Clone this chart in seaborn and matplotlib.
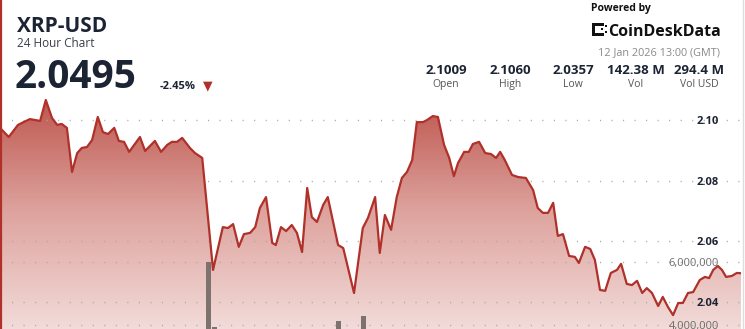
import numpy as np
import pandas as pd
import matplotlib
matplotlib.use("Agg")
import matplotlib.pyplot as plt
import matplotlib.transforms as mtransforms
from matplotlib.colors import LinearSegmentedColormap
from matplotlib.patches import Rectangle
import seaborn as sns

# ---------------- data ----------------
minutes = [0, 17, 35, 58, 78, 89, 101, 111, 120, 130,
           140, 150, 159, 169, 179, 190, 200, 210, 222, 231,
           241, 251, 272, 282, 301, 313, 325, 334, 344, 354,
           369, 379, 393, 414, 433, 443, 453, 464, 474, 486,
           496, 505, 517, 529, 536, 546, 556, 567, 577, 587,
           597, 606, 616, 628, 637, 657, 667, 688, 705, 715,
           729, 738, 748, 760, 771, 781, 791, 801, 810, 822,
           830, 841, 851, 863, 873, 882, 890, 902, 911, 919,
           931, 943, 954, 964, 972, 981, 995, 1007, 1022, 1036,
           1045, 1055, 1065, 1075, 1084, 1094, 1106, 1117, 1125, 1137,
           1147, 1156, 1166, 1176, 1187, 1199, 1207, 1218, 1228, 1238,
           1248, 1257, 1267, 1279, 1288, 1298, 1308, 1318, 1327, 1337,
           1347, 1360, 1370, 1378, 1386, 1395, 1403, 1411, 1422, 1432,
           1440]
prices = [2.0974, 2.0944, 2.0984, 2.1003, 2.0997, 2.1066, 2.1007, 2.0984, 2.0987, 2.0974,
          2.0829, 2.0891, 2.0908, 2.0911, 2.0934, 2.1010, 2.0960, 2.0954, 2.0974, 2.0931,
          2.0928, 2.0895, 2.0944, 2.0898, 2.0931, 2.0895, 2.0918, 2.0928, 2.0928, 2.0941,
          2.0908, 2.0891, 2.0875, 2.0506, 2.0647, 2.0644, 2.0657, 2.0582, 2.0624, 2.0628,
          2.0647, 2.0710, 2.0746, 2.0595, 2.0588, 2.0647, 2.0634, 2.0654, 2.0628, 2.0565,
          2.0776, 2.0680, 2.0664, 2.0720, 2.0746, 2.0588, 2.0578, 2.0430, 2.0644, 2.0677,
          2.0746, 2.0562, 2.0687, 2.0638, 2.0746, 2.0809, 2.0829, 2.0868, 2.0993, 2.0993,
          2.1000, 2.1013, 2.1010, 2.0918, 2.0875, 2.0815, 2.0858, 2.0895, 2.0895, 2.0921,
          2.0928, 2.0891, 2.0888, 2.0875, 2.0895, 2.0868, 2.0819, 2.0812, 2.0809, 2.0769,
          2.0710, 2.0694, 2.0694, 2.0727, 2.0618, 2.0624, 2.0552, 2.0549, 2.0529, 2.0582,
          2.0575, 2.0539, 2.0440, 2.0437, 2.0496, 2.0506, 2.0526, 2.0460, 2.0456, 2.0470,
          2.0430, 2.0446, 2.0430, 2.0387, 2.0417, 2.0384, 2.0357, 2.0397, 2.0397, 2.0430,
          2.0433, 2.0473, 2.0483, 2.0479, 2.0506, 2.0519, 2.0506, 2.0483, 2.0486, 2.0496,
          2.0495]
vol_minutes = [406, 416, 657, 707]
volumes = [6.0e6, 3.94e6, 4.13e6, 4.29e6]
price_ticks = [2.04, 2.06, 2.08, 2.10]
price_tick_labels = ["2.04", "2.06", "2.08", "2.10"]
vol_ticks = [4_000_000, 6_000_000]
vol_tick_labels = ["4,000,000", "6,000,000"]
stat_values = ["2.1009", "2.1060", "2.0357", "142.38 M", "294.4 M"]
stat_labels = ["Open", "High", "Low", "Vol", "Vol USD"]

df = pd.DataFrame({"minute": minutes, "price": prices})

# ---------------- style ----------------
sns.set_theme(style="white")
plt.rcParams['font.family'] = ['Open Sans', 'DejaVu Sans']

W, H = 745, 329
fig = plt.figure(figsize=(W / 100, H / 100), dpi=100)
fig.patch.set_facecolor("white")

def fy(px):
    return 1 - px / H

rect = [0, 0, 741 / W, (329 - 95) / H]
P_LO, P_HI = 2.03113, 2.10824
V_LO, V_HI = 3.873e6, 11.302e6
X_LO, X_HI = 0, 1440

ax = fig.add_axes(rect)
axv = fig.add_axes(rect)
axl = fig.add_axes(rect)
for a in (ax, axv, axl):
    a.set_xlim(X_LO, X_HI)
    a.set_axis_off()
    a.patch.set_alpha(0)
ax.set_ylim(P_LO, P_HI)
axl.set_ylim(P_LO, P_HI)
axv.set_ylim(V_LO, V_HI)

line_color = "#b0302a"

# gradient fill under the price line
top_c = (0.74, 0.33, 0.30)
bot_c = (0.95, 0.86, 0.85)
cmap = LinearSegmentedColormap.from_list("grad", [bot_c, (0.87, 0.64, 0.62), top_c])
grad = np.linspace(0, 1, 256).reshape(-1, 1)
img = ax.imshow(grad, cmap=cmap, aspect="auto", origin="lower",
                extent=[X_LO, X_HI, P_LO, P_HI], zorder=0, interpolation="bilinear")
poly = ax.fill_between(df["minute"], df["price"], P_LO, color="none", lw=0)
img.set_clip_path(poly.get_paths()[0], transform=ax.transData)

# dotted grid lines
for p in price_ticks:
    ax.axhline(p, color="#a9a9a9", lw=1.0, dashes=(0.8, 7.5), zorder=2)
for v in vol_ticks:
    axv.axhline(v, color="#a9a9a9", lw=1.0, dashes=(0.8, 7.5), zorder=1)

# volume bars
axv.bar(vol_minutes, volumes, width=9.5, color="#7d726d", align="center",
        linewidth=0, edgecolor="none", zorder=2)

# price line
sns.lineplot(data=df, x="minute", y="price", ax=axl, color=line_color,
             linewidth=1.6, estimator=None, sort=False, zorder=3)
axl.set_axis_off()

# axis labels inside the plot, right side
off = mtransforms.offset_copy(axl.get_yaxis_transform(), fig=fig, x=0, y=-4, units="dots")
for p, lab in zip(price_ticks, price_tick_labels):
    axl.text(719 / 741, p, lab, transform=off, ha="right", va="baseline",
             fontsize=8, fontweight="bold", color="#1c2433", zorder=5)
offv = mtransforms.offset_copy(axv.get_yaxis_transform(), fig=fig, x=0, y=-4, units="dots")
for v, lab in zip(vol_ticks, vol_tick_labels):
    axl.text(719 / 741, v, lab, transform=offv, ha="right", va="baseline",
             fontsize=8, color="#6b6b6b", zorder=5)

# borders
fig.add_artist(plt.Line2D([1 / W, 1 / W], [0, 1], color=line_color, lw=1.6))
fig.add_artist(plt.Line2D([742.5 / W, 742.5 / W], [0, 1], color="#dddddd", lw=1.0))

# header (left)
dark = "#1c2433"
fig.text(17 / W, fy(32), "XRP-USD", fontsize=15, fontweight="bold", color=dark, va="baseline")
fig.text(17 / W, fy(47), "24 Hour Chart", fontsize=8.5, color="#3a3f48", va="baseline")
fig.text(15 / W, fy(88), "2.0495", fontsize=28, fontweight="bold", color=dark, va="baseline")
fig.text(160 / W, fy(89), "-2.45%", fontsize=8, fontweight="bold", color=dark, va="baseline")
fig.text(208 / W, fy(85.5), "▼", fontsize=9, color=line_color, ha="center", va="center",
         family=["DejaVu Sans"])

# header (right)
fig.text(591 / W, fy(11.5), "Powered by", fontsize=7.5, fontweight="bold", color="#111111", va="baseline")
# logo icon
for (lx, ly, lw_, lh) in [(592, 23, 3, 13), (595, 23, 9, 3), (595, 33, 9, 3), (601, 28, 2, 2), (605, 25, 2, 2), (605, 31, 2, 2)]:
    fig.add_artist(Rectangle((lx / W, fy(ly + lh)), lw_ / W, lh / H, transform=fig.transFigure,
                             color="#111111", lw=0))
fig.text(608 / W, fy(36), "CoinDeskData", fontsize=11.5, fontweight="bold", color="#111111", va="baseline")
fig.text(720 / W, fy(55), "12 Jan 2026 13:00 (GMT)", fontsize=7.8, color="#8a8a8a", ha="right", va="baseline")

stat_x = [446, 510, 573, 636, 699]
for x, val, lab in zip(stat_x, stat_values, stat_labels):
    fig.text(x / W, fy(74), val, fontsize=9.5, fontweight="bold", color=dark, ha="center", va="baseline")
    fig.text(x / W, fy(87), lab, fontsize=7.5, color="#555555", ha="center", va="baseline")

fig.savefig("out.png", dpi=100)
